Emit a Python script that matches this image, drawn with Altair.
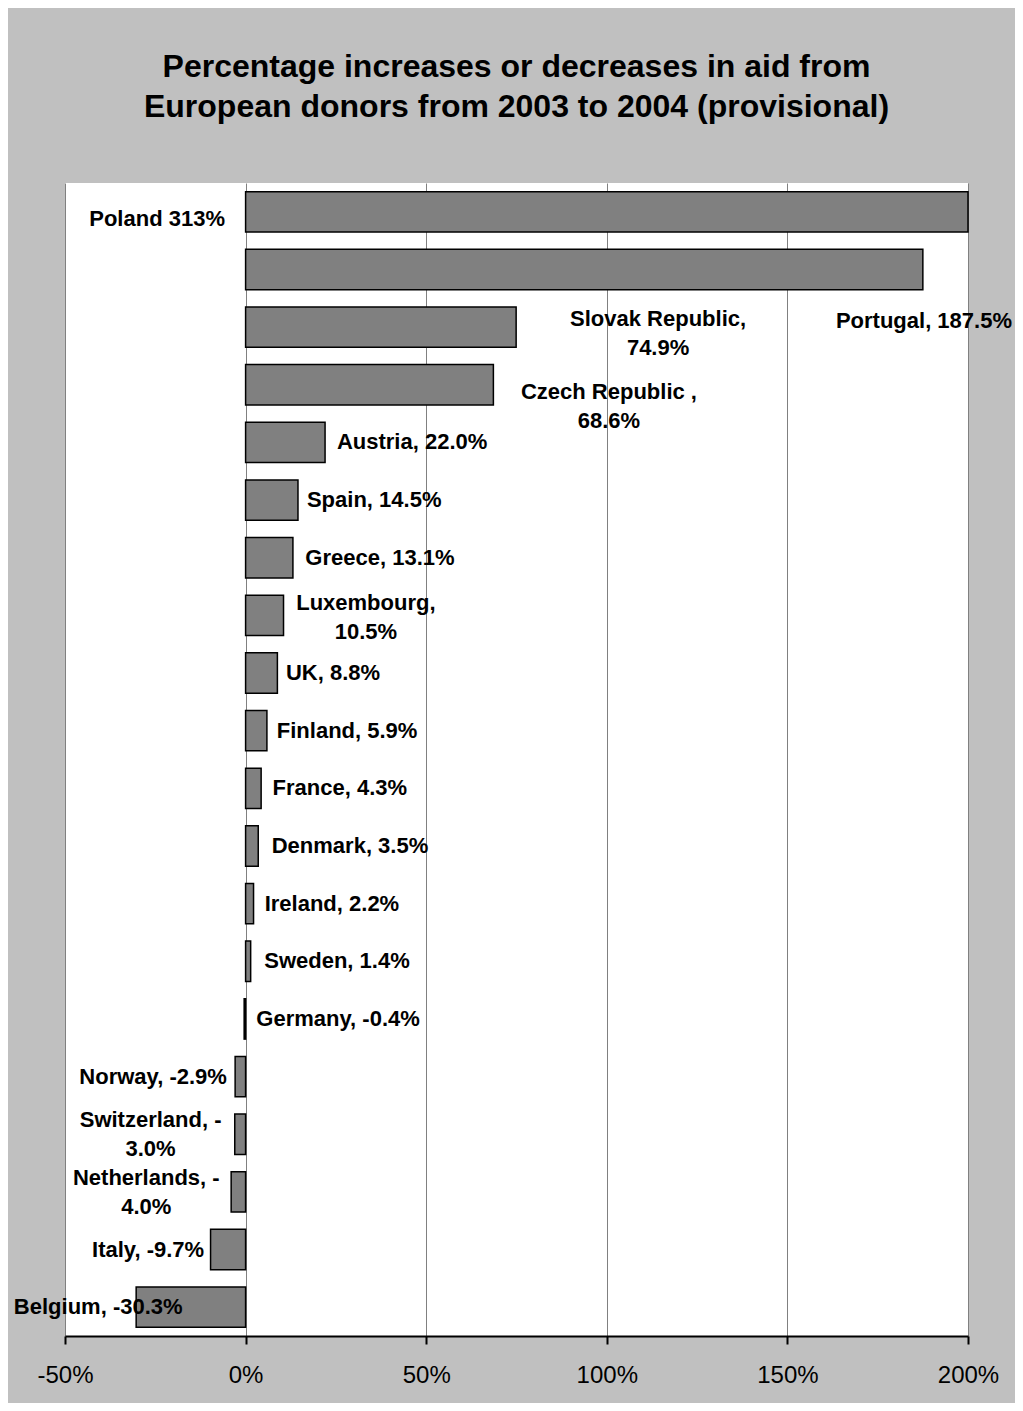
import altair as alt
import pandas as pd

countries = ["Poland", "Portugal", "Slovak Republic", "Czech Republic", "Austria", "Spain",
             "Greece", "Luxembourg", "UK", "Finland", "France", "Denmark", "Ireland", "Sweden",
             "Germany", "Norway", "Switzerland", "Netherlands", "Italy", "Belgium"]
values = [313.0, 187.5, 74.9, 68.6, 22.0, 14.5, 13.1, 10.5, 8.8, 5.9, 4.3, 3.5, 2.2, 1.4,
          -0.4, -2.9, -3.0, -4.0, -9.7, -30.3]
labels = ["Poland 313%", "Portugal, 187.5%", "Slovak Republic,\n74.9%", "Czech Republic ,\n68.6%",
          "Austria, 22.0%", "Spain, 14.5%", "Greece, 13.1%", "Luxembourg,\n10.5%", "UK, 8.8%",
          "Finland, 5.9%", "France, 4.3%", "Denmark, 3.5%", "Ireland, 2.2%", "Sweden, 1.4%",
          "Germany, -0.4%", "Norway, -2.9%", "Switzerland, -\n3.0%", "Netherlands, -\n4.0%",
          "Italy, -9.7%", "Belgium, -30.3%"]
# label anchor positions (in % units) as placed in the original chart
label_x = [-24.5, 187.8, 114.2, 100.6, 46.1, 35.6, 37.2, 33.3, 24.2, 28.1, 26.1, 28.9, 23.9,
           25.3, 25.6, -25.6, -26.3, -27.5, -27.0, -40.8]
label_dy = [7, 52, -8, 7, 0, 0, 0, -12, 0, 0, 0, 0, 0, 0, 0, 0, -14, -14, 0, 0]
tick_values = [-50, 0, 50, 100, 150, 200]

df = pd.DataFrame({"country": countries, "value": values, "label": labels,
                   "lx": label_x, "dy": label_dy})

FONT = "Liberation Sans"
xscale = alt.Scale(domain=[-50, 200], clamp=True, nice=False, zero=False)
yenc = alt.Y("country:N", sort=countries, axis=None,
             scale=alt.Scale(paddingInner=0.3, paddingOuter=0.15))

bars = alt.Chart(df).mark_bar(color="#808080", stroke="black", strokeWidth=1.5).encode(
    x=alt.X("value:Q", scale=xscale,
            axis=alt.Axis(values=tick_values, labelExpr="datum.value + '%'", title=None,
                          grid=True, gridColor="#808080", gridWidth=1,
                          domainColor="black", domainWidth=2, tickColor="black",
                          tickWidth=2, tickSize=8, labelFont=FONT, labelFontSize=24,
                          labelColor="black", labelPadding=19, labelFlush=False)),
    x2=alt.datum(0),
    y=yenc,
)

layers = [bars]
for d in sorted(set(label_dy)):
    t = alt.Chart(df).transform_filter(alt.datum.dy == d).mark_text(
        font=FONT, fontSize=22, fontWeight="bold", color="black", align="center",
        baseline="middle", dy=d, lineBreak="\n", lineHeight=29
    ).encode(
        x=alt.X("lx:Q", scale=xscale),
        y=yenc,
        text="label:N",
    )
    layers.append(t)

chart = alt.layer(*layers).properties(
    width=903, height=1153,
    title=alt.TitleParams(
        ["Percentage increases or decreases in aid from",
         "European donors from 2003 to 2004 (provisional)"],
        font=FONT, fontSize=32, fontWeight="bold", color="black",
        anchor="middle", offset=59, lineHeight=40),
    background="#C0C0C0",
    autosize=alt.AutoSizeParams(type="none"),
    padding={"left": 57, "top": 175, "right": 47, "bottom": 67},
).configure_view(fill="white", stroke=None)

chart.save("out.html", embed_options={"renderer": "svg", "actions": False})
